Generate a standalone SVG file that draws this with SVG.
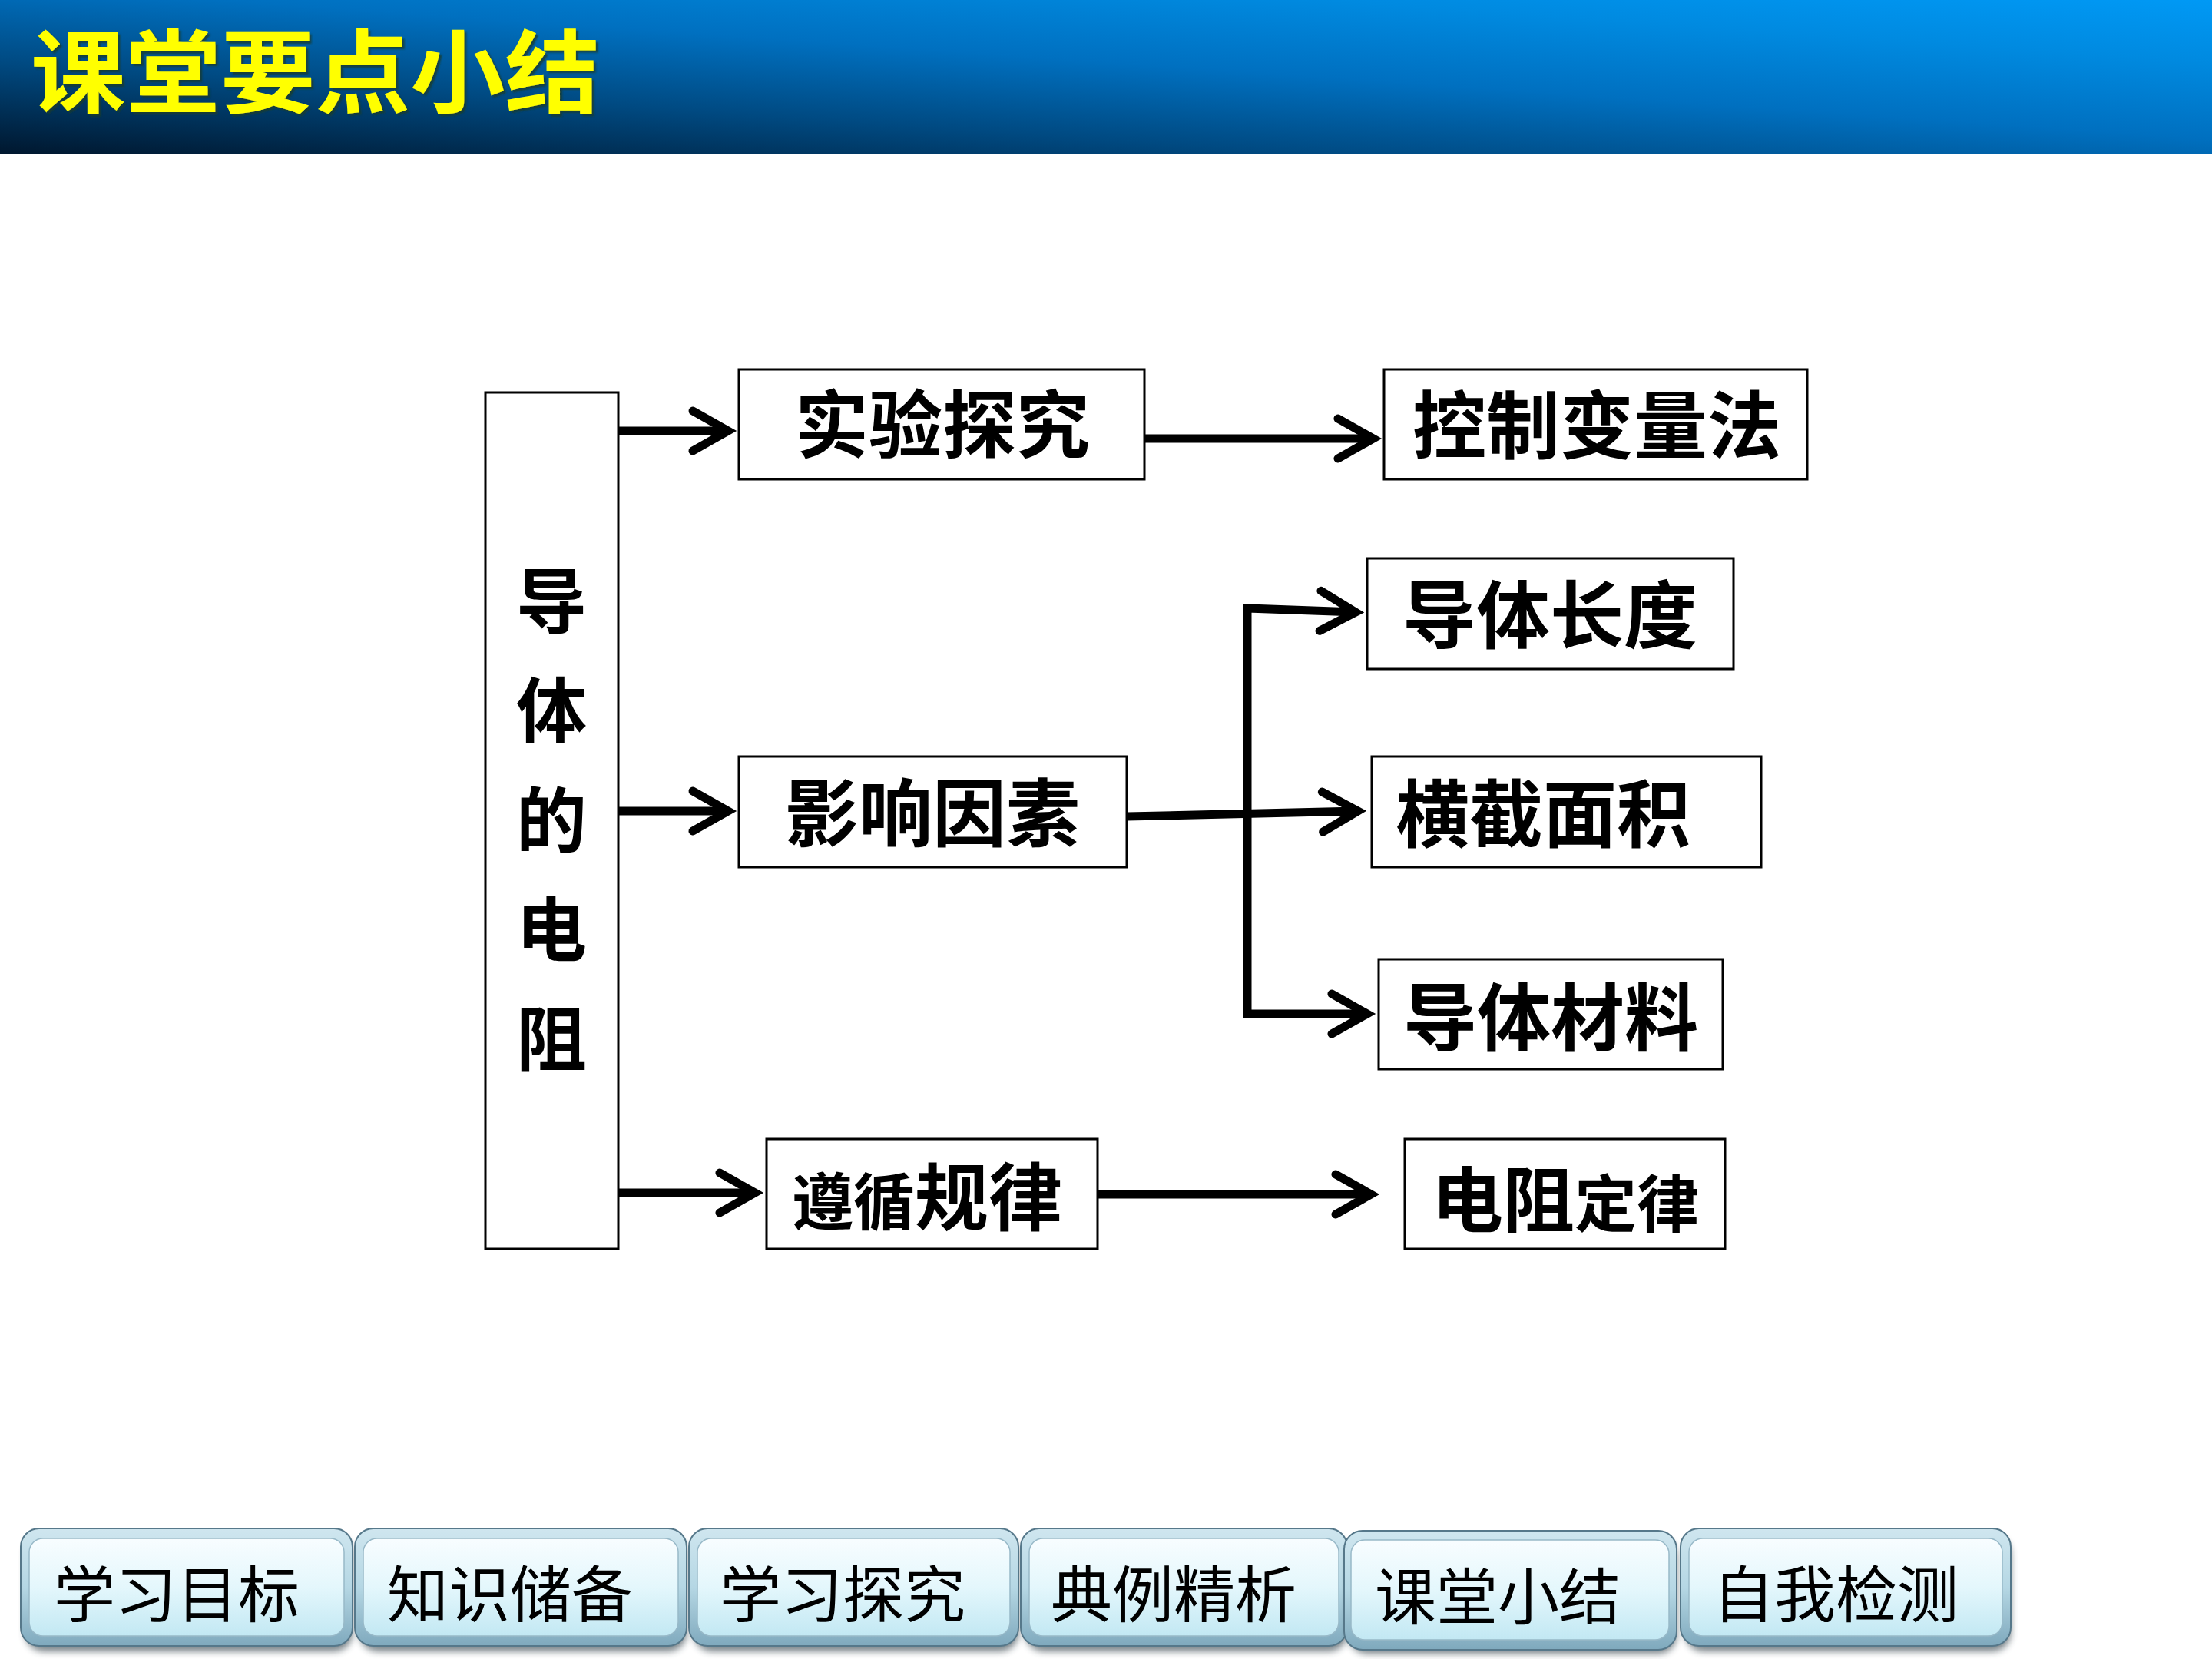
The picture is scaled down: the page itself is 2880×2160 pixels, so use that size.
<svg xmlns="http://www.w3.org/2000/svg" width="2880" height="2160" viewBox="0 0 2880 2160">
<defs>
<linearGradient id="hdr" x1="0" y1="1" x2="1" y2="0">
<stop offset="0" stop-color="#00172e"/>
<stop offset="0.3" stop-color="#004a82"/>
<stop offset="0.55" stop-color="#0070c0"/>
<stop offset="0.8" stop-color="#008ae0"/>
<stop offset="1" stop-color="#0099f5"/>
</linearGradient>
<linearGradient id="btnOuter" x1="0" y1="0" x2="0" y2="1">
<stop offset="0" stop-color="#cfe6ef"/>
<stop offset="0.5" stop-color="#b5d7e4"/>
<stop offset="1" stop-color="#7fa9bd"/>
</linearGradient>
<linearGradient id="btnFace" x1="0" y1="0" x2="0" y2="1">
<stop offset="0" stop-color="#f8fdff"/>
<stop offset="0.5" stop-color="#e4f7fc"/>
<stop offset="1" stop-color="#c2e8f3"/>
</linearGradient>
<filter id="blur" x="-10%" y="-30%" width="120%" height="160%">
<feGaussianBlur stdDeviation="5"/>
</filter>
<filter id="tshadow" x="-5%" y="-10%" width="110%" height="130%">
<feDropShadow dx="3" dy="3" stdDeviation="1" flood-color="#1b3b2b" flood-opacity="0.8"/>
</filter>
<marker id="arr" markerUnits="userSpaceOnUse" markerWidth="90" markerHeight="90" viewBox="-70 -45 90 90" refX="0" refY="0" orient="auto-start-reverse" overflow="visible">
<path d="M-46,-26 L0,0 L-46,26" fill="none" stroke="#000" stroke-width="11" stroke-linecap="round" stroke-linejoin="miter"/>
</marker>
</defs>
<style>
.box{fill:#fff;stroke:#000;stroke-width:3}
.lbl{font-family:"Noto Sans CJK SC","Noto Sans CJK TC",sans-serif;font-weight:700;fill:#000}
.conn{fill:none;stroke:#000;stroke-width:11;stroke-linejoin:miter}
.btxt{font-family:"Noto Sans CJK SC",sans-serif;font-weight:400;font-size:80px;fill:#000;text-anchor:middle}
.bo{fill:url(#btnOuter);stroke:#56788a;stroke-width:2}
.bf{fill:url(#btnFace);stroke:#98b9c8;stroke-width:1.5}
.bs{fill:#2e3d44;opacity:0.65;filter:url(#blur)}
</style>

<rect width="2880" height="2160" fill="#fff"/>

<g id="header">
<rect x="0" y="0" width="2880" height="201" fill="url(#hdr)"/>
<text x="40" y="138" font-family="Noto Sans CJK SC, sans-serif" font-weight="700" font-size="118" textLength="741" lengthAdjust="spacingAndGlyphs" fill="#ffff00" filter="url(#tshadow)">课堂要点小结</text>
</g>

<g id="connectors">
<path class="conn" d="M805,561 H948" marker-end="url(#arr)"/>
<path class="conn" d="M805,1056 H948" marker-end="url(#arr)"/>
<path class="conn" d="M805,1553 H983" marker-end="url(#arr)"/>
<path class="conn" d="M1490,571 H1788" marker-end="url(#arr)"/>
<path class="conn" d="M1429,1555 H1785" marker-end="url(#arr)"/>
<path class="conn" d="M1467,1063 L1768,1056" marker-end="url(#arr)"/>
<path class="conn" d="M1765,797 L1624,792 V1320 H1780" marker-start="url(#arr)" marker-end="url(#arr)"/>
</g>

<g id="node-root">
<rect class="box" x="632" y="511" width="173" height="1115"/>
<text class="lbl" font-size="92" text-anchor="middle" x="718" y="817">导</text>
<text class="lbl" font-size="92" text-anchor="middle" x="718" y="959">体</text>
<text class="lbl" font-size="92" text-anchor="middle" x="718" y="1102">的</text>
<text class="lbl" font-size="92" text-anchor="middle" x="718" y="1244">电</text>
<text class="lbl" font-size="92" text-anchor="middle" x="718" y="1387">阻</text>
</g>

<g id="node-shiyan">
<rect class="box" x="962" y="481" width="528" height="143"/>
<text class="lbl" font-size="96" text-anchor="middle" x="1227" y="588">实验探究</text>
</g>
<g id="node-kongzhi">
<rect class="box" x="1802" y="481" width="551" height="143"/>
<text class="lbl" font-size="96" text-anchor="middle" x="2079" y="589">控制变量法</text>
</g>
<g id="node-yingxiang">
<rect class="box" x="962" y="985" width="505" height="144"/>
<text class="lbl" font-size="96" text-anchor="middle" x="1214" y="1094">影响因素</text>
</g>
<g id="node-changdu">
<rect class="box" x="1780" y="727" width="477" height="144"/>
<text class="lbl" font-size="96" text-anchor="middle" x="2018" y="836">导体长度</text>
</g>
<g id="node-mianji">
<rect class="box" x="1786" y="985" width="507" height="144"/>
<text class="lbl" font-size="96" text-anchor="middle" x="2009" y="1095">横截面积</text>
</g>
<g id="node-cailiao">
<rect class="box" x="1795" y="1249" width="448" height="143"/>
<text class="lbl" font-size="96" text-anchor="middle" x="2019" y="1360">导体材料</text>
</g>
<g id="node-zunxun">
<rect class="box" x="998" y="1483" width="431" height="143"/>
<text class="lbl" x="1031" y="1594"><tspan font-size="80">遵循</tspan><tspan font-size="96">规律</tspan></text>
</g>
<g id="node-dingl">
<rect class="box" x="1829" y="1483" width="417" height="143"/>
<text class="lbl" x="1864" y="1597"><tspan font-size="93">电阻</tspan><tspan font-size="81">定律</tspan></text>
</g>

<g id="nav">
<g id="btn1">
<rect class="bs" x="33" y="2000" width="426" height="150" rx="24"/>
<rect class="bo" x="27" y="1990" width="432" height="153" rx="24"/>
<rect class="bf" x="38" y="2003" width="410" height="127" rx="18"/>
<text class="btxt" x="230" y="2105">学习目标</text>
</g>
<g id="btn2">
<rect class="bs" x="468" y="2000" width="426" height="150" rx="24"/>
<rect class="bo" x="462" y="1990" width="432" height="153" rx="24"/>
<rect class="bf" x="473" y="2003" width="410" height="127" rx="18"/>
<text class="btxt" x="664" y="2105">知识储备</text>
</g>
<g id="btn3">
<rect class="bs" x="903" y="2000" width="423" height="150" rx="24"/>
<rect class="bo" x="897" y="1990" width="429" height="153" rx="24"/>
<rect class="bf" x="908" y="2003" width="407" height="127" rx="18"/>
<text class="btxt" x="1097" y="2105">学习探究</text>
</g>
<g id="btn4">
<rect class="bs" x="1335" y="2000" width="419" height="150" rx="24"/>
<rect class="bo" x="1329" y="1990" width="425" height="153" rx="24"/>
<rect class="bf" x="1340" y="2003" width="403" height="127" rx="18"/>
<text class="btxt" x="1528" y="2105">典例精析</text>
</g>
<g id="btn5">
<rect class="bs" x="1756" y="2003" width="427" height="150" rx="24"/>
<rect class="bo" x="1750" y="1993" width="433" height="155" rx="24"/>
<rect class="bf" x="1759" y="2005" width="414" height="130" rx="18"/>
<text class="btxt" x="1950" y="2108">课堂小结</text>
</g>
<g id="btn6">
<rect class="bs" x="2194" y="2000" width="424" height="150" rx="24"/>
<rect class="bo" x="2188" y="1990" width="430" height="153" rx="24"/>
<rect class="bf" x="2199" y="2003" width="408" height="127" rx="18"/>
<text class="btxt" x="2390" y="2105">自我检测</text>
</g>
</g>
</svg>
